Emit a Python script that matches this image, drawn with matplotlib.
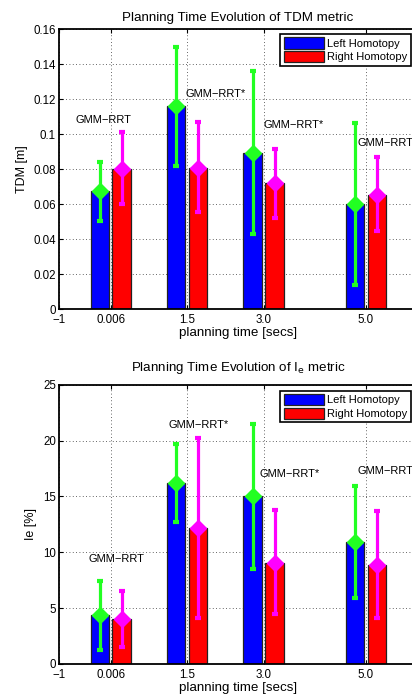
import matplotlib
matplotlib.use('Agg')
import matplotlib.pyplot as plt
import numpy as np

plt.rcParams['font.family'] = ['Liberation Sans', 'DejaVu Sans']

# planning times (x positions of the groups)
times = [0.006, 1.5, 3.0, 5.0]
xtick_vals = [-1, 0.006, 1.5, 3.0, 5.0]
xtick_labels = ['\u22121', '0.006', '1.5', '3.0', '5.0']

# TDM metric [m]
tdm_left = [0.0676, 0.116, 0.0895, 0.060]
tdm_left_lo = [0.0506, 0.082, 0.0432, 0.0137]
tdm_left_hi = [0.0843, 0.150, 0.136, 0.1066]
tdm_right = [0.0803, 0.0807, 0.072, 0.0655]
tdm_right_lo = [0.060, 0.0554, 0.0522, 0.0449]
tdm_right_hi = [0.1013, 0.107, 0.0914, 0.0869]

# Ie metric [%]
ie_left = [4.36, 16.17, 15.04, 10.9]
ie_left_lo = [1.22, 12.68, 8.47, 5.91]
ie_left_hi = [7.43, 19.67, 21.49, 15.94]
ie_right = [4.0, 12.15, 9.07, 8.86]
ie_right_lo = [1.49, 4.09, 4.45, 4.12]
ie_right_hi = [6.56, 20.23, 13.76, 13.73]

# annotations (text, x, y)
tdm_notes = [('GMM\u2212RRT', -0.69, 0.108), ('GMM\u2212RRT*', 1.47, 0.123),
             ('GMM\u2212RRT*', 3.0, 0.105), ('GMM\u2212RRT', 4.84, 0.095)]
ie_notes = [('GMM\u2212RRT', -0.43, 9.4), ('GMM\u2212RRT*', 1.14, 21.4),
            ('GMM\u2212RRT*', 2.92, 17.0), ('GMM\u2212RRT', 4.84, 17.3)]

fig = plt.figure(figsize=(4.12, 6.98), dpi=100)
W, H = 412.0, 698.0
ax_left = 59.3 / W
ax_width = (416.8 - 59.3) / W
ax1 = fig.add_axes([ax_left, (H - 309.3) / H, ax_width, 280.3 / H])
ax2 = fig.add_axes([ax_left, (H - 664.0) / H, ax_width, 279.3 / H])

green = '#22ff22'
magenta = '#ff00ff'
bw = 0.36
off = 0.215


def draw(ax, left, llo, lhi, right, rlo, rhi, notes, ylim, yticks, ylabels,
         title, ylabel, leg_top, tpad):
    x = np.array(times)
    ax.bar(x - off, left, bw, color='#0000ff', edgecolor='#222222', lw=0.9,
           label='Left Homotopy', zorder=2)
    ax.bar(x + off, right, bw, color='#ff0000', edgecolor='#222222', lw=0.9,
           label='Right Homotopy', zorder=2)
    left = np.array(left); right = np.array(right)
    ax.errorbar(x - off, left, yerr=[left - np.array(llo), np.array(lhi) - left],
                fmt='D', color=green, ms=8, lw=2.3, capsize=2.2, capthick=3,
                zorder=3)
    ax.errorbar(x + off, right, yerr=[right - np.array(rlo), np.array(rhi) - right],
                fmt='D', color=magenta, ms=8, lw=2.3, capsize=2.2, capthick=3,
                zorder=3)
    for t, tx, ty in notes:
        ax.text(tx, ty, t, ha='left', va='center', fontsize=8, clip_on=False)
    ax.set_xlim(-1, 6)
    ax.set_ylim(*ylim)
    ax.set_xticks(xtick_vals)
    ax.set_xticklabels(xtick_labels)
    ax.set_yticks(yticks)
    ax.set_yticklabels(ylabels)
    ax.tick_params(direction='in', length=3, labelsize=8.3, top=True, right=True)
    ax.tick_params(axis='x', pad=3.5)
    ax.tick_params(axis='y', pad=2.5)
    ax.grid(True, ls=(0, (1, 3)), color='#333333', lw=0.6)
    ax.set_axisbelow(True)
    for s in ax.spines.values():
        s.set_linewidth(1.3)
    ax.set_title(title, fontsize=9.6, pad=tpad)
    ax.set_xlabel('planning time [secs]', fontsize=9.6, labelpad=0.5)
    ax.set_ylabel(ylabel, fontsize=9, labelpad=4)
    leg = ax.legend(loc='upper right', bbox_to_anchor=(410.7 / W, 1 - leg_top / H),
                    bbox_transform=fig.transFigure, borderaxespad=0, fontsize=8,
                    fancybox=False, framealpha=1, edgecolor='black',
                    handlelength=3.6, handleheight=1.2, handletextpad=0.3,
                    labelspacing=0.2, borderpad=0.3)
    leg.get_frame().set_linewidth(1.2)


draw(ax1, tdm_left, tdm_left_lo, tdm_left_hi, tdm_right, tdm_right_lo,
     tdm_right_hi, tdm_notes, (0, 0.16), np.arange(0, 0.161, 0.02),
     ['0', '0.02', '0.04', '0.06', '0.08', '0.1', '0.12', '0.14', '0.16'],
     'Planning Time Evolution of TDM metric', 'TDM [m]', 34, 6)
draw(ax2, ie_left, ie_left_lo, ie_left_hi, ie_right, ie_right_lo,
     ie_right_hi, ie_notes, (0, 25), [0, 5, 10, 15, 20, 25],
     ['0', '5', '10', '15', '20', '25'],
     'Planning Time Evolution of I$_{\\mathrm{e}}$ metric', 'Ie [%]', 390.7, 10)

fig.savefig('out.png', dpi=100)
